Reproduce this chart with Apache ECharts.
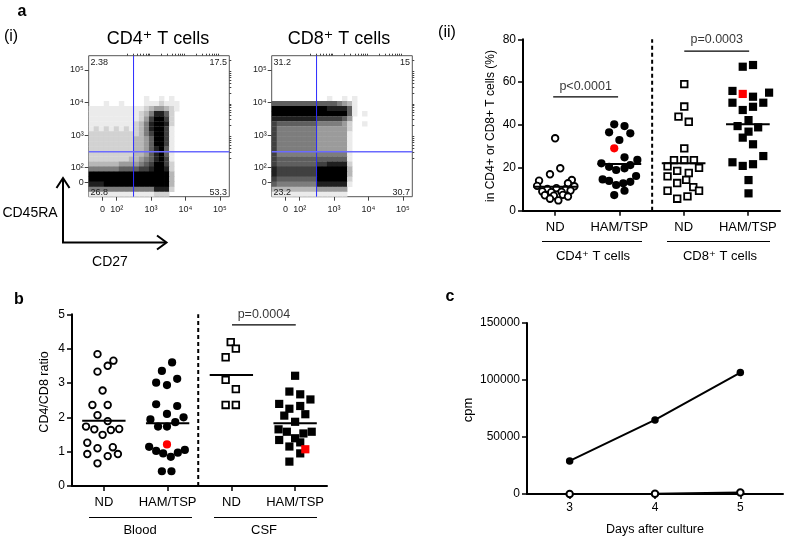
<!DOCTYPE html>
<html><head><meta charset="utf-8">
<script src="https://cdn.jsdelivr.net/npm/echarts@6/dist/echarts.min.js"></script>
<style>html,body{margin:0;padding:0;background:#fff}#c{width:785px;height:540px}</style>
</head><body><div id="c"></div>
<script>
const FONT = "'Liberation Sans', Arial, 'DejaVu Sans', sans-serif";

// ---------- a(i) flow cytometry: density (0 = empty .. 9 = solid), 28 x 28 cells, top row first
const CD4_DENSITY = [
"0000 0000 0000 0000 0000 0000 0000","0000 0000 0000 0000 0000 0000 0000",
"0000 0000 0000 0000 0000 0000 0000","0000 0000 0000 0000 0000 0000 0000",
"0000 0000 0000 0000 0000 0000 0000","0000 0000 0000 0000 0000 0000 0000",
"0000 0000 0000 0000 0000 0000 0000","0000 0000 0000 0000 0000 0000 0000",
"0000 0000 0001 0010 1000 0000 0000",
"0001 0010 0001 1121 1100 0000 0000",
"1111 1111 1112 3443 2100 0000 0000",
"1111 1111 1123 5886 2000 0000 0000",
"1111 1111 1124 7997 2000 0000 0000",
"1111 1111 1235 8998 2000 0000 0000",
"1212 1212 1235 8997 1000 0000 0000",
"2222 2222 2235 7997 1000 0000 0000",
"2222 2222 2334 6997 1000 0000 0000",
"2222 2222 2334 6997 1000 0000 0000",
"2222 2222 2334 6896 1000 0000 0000",
"2222 2222 2334 6896 1000 0000 0000",
"2222 2222 3345 6897 1000 0000 0000",
"3333 3344 4456 7997 2000 0000 0000",
"5555 5566 6677 8998 2000 0000 0000",
"9999 9999 9999 9999 3000 0000 0000",
"9999 9999 9999 9999 3000 0000 0000",
"8889 9999 9999 9999 3000 0000 0000",
"5555 5555 5555 5888 2000 0000 0000",
"1111 1111 1111 1222 0000 0000 0000"
];
const CD8_DENSITY = [
"0000 0000 0000 0000 0000 0000 0000","0000 0000 0000 0000 0000 0000 0000",
"0000 0000 0000 0000 0000 0000 0000","0000 0000 0000 0000 0000 0000 0000",
"0000 0000 0000 0000 0000 0000 0000","0000 0000 0000 0000 0000 0000 0000",
"0000 0000 0000 0000 0000 0000 0000","0000 0000 0000 0000 0000 0000 0000",
"0000 0000 0001 0010 1000 0000 0000",
"6666 6666 6666 6543 1000 0000 0000",
"9999 9999 9998 8886 1000 0000 0000",
"9999 9999 9999 9996 1010 0000 0000",
"8888 8888 8777 7764 0000 0000 0000",
"7666 6666 6555 5542 0010 0000 0000",
"7555 5555 5444 4442 0000 0000 0000",
"7555 5555 5444 4441 0000 0000 0000",
"7555 5555 5444 4441 0000 0000 0000",
"7555 5555 5444 4441 0000 0000 0000",
"7555 5555 5444 4441 0000 0000 0000",
"7555 5555 5555 5551 0000 0000 0000",
"7666 6666 6666 6661 0000 0000 0000",
"7666 6666 6778 8882 0000 0000 0000",
"8777 7777 7999 9993 0000 0000 0000",
"8777 7777 7999 9993 0000 0000 0000",
"7666 6666 6999 9992 0000 0000 0000",
"6555 5555 5888 8881 0000 0000 0000",
"3333 3333 3444 4440 0000 0000 0000",
"1111 1111 1111 1110 0000 0000 0000"
];
const CD4_QUADRANTS = ['2.38', '17.5', '26.8', '53.3'];
const CD8_QUADRANTS = ['31.2', '15', '23.2', '30.7'];
const FLOW_X_TICKS = [1.59, 2, 3, 4, 5];
const FLOW_Y_TICKS = [1.54, 2, 3, 4, 5];
const FLOW_TICK_LABELS = ['0', '10²', '10³', '10⁴', '10⁵'];
const GATE_X = 2.49, GATE_Y = 2.49;
const U_MIN = 1.186, U_MAX = 5.273, V_MIN = 1.110, V_MAX = 5.439;

// ---------- a(ii)
const GROUPS_A = ['ND', 'HAM/TSP', 'ND', 'HAM/TSP'];
const CD4_ND = [[0.50,33.8],[0.58,19.8],[0.42,17.0],[0.25,14.0],[0.76,14.3],[0.70,12.8],
 [0.22,11.6],[0.38,10.2],[0.52,10.5],[0.66,10.0],[0.80,11.4],
 [0.30,9.0],[0.44,8.6],[0.60,8.8],[0.74,9.4],
 [0.34,7.2],[0.48,7.0],[0.62,7.4],[0.70,6.6],[0.42,5.6],[0.55,4.8]];
const CD4_HAM = [[1.42,40.3],[1.58,39.5],[1.34,36.6],[1.67,36.1],[1.50,33.0],
 [1.58,24.9],[1.78,23.7],[1.22,22.1],[1.34,20.5],[1.45,19.0],[1.58,19.8],[1.67,21.3],
 [1.24,14.6],[1.34,13.9],[1.45,12.0],[1.56,12.8],[1.67,13.5],[1.76,16.2],
 [1.42,7.3],[1.58,9.3]];
const CD4_HAM_RED = [[1.42,29.1]];
const CD8_ND = [[2.51,59.1],[2.51,48.6],[2.42,43.9],[2.58,41.5],[2.51,29.1],
 [2.35,23.6],[2.51,23.6],[2.66,23.6],
 [2.25,20.7],[2.40,18.6],[2.58,17.6],[2.74,20.0],
 [2.25,16.0],[2.54,14.4],[2.40,12.9],[2.65,11.0],
 [2.25,9.3],[2.74,9.3],[2.40,5.6],[2.56,6.7]];
const CD8_HAM = [[3.42,67.2],[3.58,68.0],[3.26,55.9],[3.58,53.2],[3.83,55.1],[3.26,50.4],[3.74,50.4],
 [3.42,47.0],[3.58,48.5],[3.51,42.3],[3.34,39.5],[3.66,38.9],[3.51,36.9],[3.42,34.1],[3.58,31.0],
 [3.74,25.5],[3.26,22.6],[3.42,20.9],[3.58,21.7],[3.51,14.3],[3.51,8.1]];
const CD8_HAM_RED = [[3.42,54.5]];
const MEDIANS_A = [11.2, 21.8, 22.1, 40.3];
const P_A = [{text:'p<0.0001', from:0.47, to:1.48, y:53.1, ty:57.8}, {text:'p=0.0003', from:2.51, to:3.52, y:74.5, ty:80}];

// ---------- b
const GROUPS_B = ['ND', 'HAM/TSP', 'ND', 'HAM/TSP'];
const BLOOD_ND = [[0.40,3.84],[0.65,3.65],[0.56,3.50],[0.40,3.33],[0.48,2.78],[0.32,2.36],[0.56,2.36],
 [0.40,2.06],[0.56,1.89],[0.22,1.73],[0.35,1.65],[0.48,1.49],[0.61,1.63],[0.74,1.66],
 [0.24,1.26],[0.40,1.10],[0.64,1.13],[0.24,0.93],[0.56,0.87],[0.72,0.93],[0.40,0.66]];
const BLOOD_HAM = [[1.57,3.60],[1.41,3.35],[1.32,3.01],[1.49,2.94],[1.65,3.12],[1.32,2.38],[1.65,2.33],
 [1.49,2.10],[1.23,1.94],[1.75,2.00],[1.62,1.86],[1.35,1.73],[1.49,1.73],
 [1.21,1.14],[1.32,1.02],[1.43,0.95],[1.55,0.85],[1.66,0.97],[1.77,1.05],[1.41,0.43],[1.56,0.43]];
const BLOOD_HAM_RED = [[1.49,1.21]];
const CSF_ND = [[2.49,4.19],[2.57,4.00],[2.41,3.75],[2.41,3.09],[2.57,2.82],[2.41,2.36],[2.57,2.36]];
const CSF_HAM = [[3.50,3.21],[3.41,2.75],[3.58,2.67],[3.74,2.52],[3.25,2.39],[3.41,2.25],[3.58,2.33],
 [3.33,2.05],[3.66,2.09],[3.50,1.87],[3.24,1.65],[3.37,1.58],[3.63,1.53],[3.76,1.58],
 [3.25,1.34],[3.50,1.39],[3.58,1.27],[3.41,1.15],[3.58,0.95],[3.41,0.71]];
const CSF_HAM_RED = [[3.66,1.07]];
const MEDIANS_B = [1.90, 1.83, 3.23, 1.83];
const P_B = [{text:'p=0.0004', from:2.51, to:3.51, y:4.69, ty:4.98}];

// ---------- c
const DAYS = ['3', '4', '5'];
const HAM_CPM = [29000, 65000, 106500];
const ND_CPM = [0, 200, 1300];

// ================= build =================
const NC = 28, NR = 28;
const DU = (U_MAX - U_MIN) / NC, DV = (V_MAX - V_MIN) / NR;
function densityData(rows) {
  const out = [];
  rows.forEach((row, r) => {
    const s = row.replace(/\s/g, '');
    for (let c = 0; c < NC; c++) {
      const d = +(s[c] || 0);
      if (d > 0) out.push([U_MIN + (c + 0.5) * DU, V_MAX - (r + 0.5) * DV, d]);
    }
  });
  return out;
}
function renderCell(params, api) {
  const u = api.value(0), v = api.value(1), d = api.value(2);
  const p0 = api.coord([u - DU / 2, v + DV / 2]);
  const p1 = api.coord([u + DU / 2, v - DV / 2]);
  const g = Math.round(255 * (1 - Math.pow(d / 9, 1.15)));
  return {type: 'rect', shape: {x: p0[0], y: p0[1], width: p1[0] - p0[0] + 0.4, height: p1[1] - p0[1] + 0.4},
    style: {fill: 'rgb(' + g + ',' + g + ',' + g + ')'}};
}
function minorTicks(lo, hi) {
  const t = [];
  for (let dec = 2; dec <= 5; dec++) for (let k = 2; k <= 9; k++) {
    const p = dec + Math.log10(k); if (p > lo && p < hi) t.push(p);
  }
  return t;
}
function nearestLabel(v, ticks) {
  let bi = 0; ticks.forEach((t, i) => { if (Math.abs(t - v) < Math.abs(ticks[bi] - v)) bi = i; });
  return FLOW_TICK_LABELS[bi];
}
const tickStyle = {color: '#444', width: 1};
function flowX(gi) {
  return {type: 'value', gridIndex: gi, min: U_MIN, max: U_MAX, axisLine: {show: false}, splitLine: {show: false},
    axisTick: {show: true, customValues: FLOW_X_TICKS, length: 4, lineStyle: tickStyle},
    axisLabel: {show: true, customValues: FLOW_X_TICKS, formatter: v => nearestLabel(v, FLOW_X_TICKS),
      fontSize: 9, color: '#222', margin: 8, fontFamily: FONT}};
}
function flowXMinor(gi) {
  return {type: 'value', gridIndex: gi, min: U_MIN, max: U_MAX, axisLine: {show: false}, splitLine: {show: false},
    axisTick: {show: true, customValues: minorTicks(U_MIN, U_MAX), length: 2, lineStyle: tickStyle}, axisLabel: {show: false}};
}
function flowY(gi) {
  return {type: 'value', gridIndex: gi, min: V_MIN, max: V_MAX, axisLine: {show: false}, splitLine: {show: false},
    axisTick: {show: true, customValues: FLOW_Y_TICKS, length: 4, lineStyle: tickStyle},
    axisLabel: {show: true, customValues: FLOW_Y_TICKS, formatter: v => nearestLabel(v, FLOW_Y_TICKS),
      fontSize: 9, color: '#222', margin: 5, fontFamily: FONT}};
}
function flowYMinor(gi) {
  return {type: 'value', gridIndex: gi, min: V_MIN, max: V_MAX, axisLine: {show: false}, splitLine: {show: false},
    axisTick: {show: true, customValues: minorTicks(V_MIN, V_MAX), length: 2, lineStyle: tickStyle}, axisLabel: {show: false}};
}
const AXLINE = {show: true, lineStyle: {color: '#000', width: 2}};
const AXTICK = {show: true, length: 5, lineStyle: {color: '#000', width: 1.5}};
const AXLABEL = {color: '#000', fontSize: 12, fontFamily: FONT};
function groupX(gi, groups) {
  return {type: 'value', gridIndex: gi, min: 0, max: 4, axisLine: AXLINE, splitLine: {show: false},
    axisTick: Object.assign({}, AXTICK, {customValues: [0.5, 1.5, 2.5, 3.5]}),
    axisLabel: Object.assign({}, AXLABEL, {fontSize: 13, margin: 10, customValues: [0.5, 1.5, 2.5, 3.5],
      formatter: v => groups[Math.floor(v)]})};
}
function valY(gi, max, interval) {
  return {type: 'value', gridIndex: gi, min: 0, max: max, interval: interval, axisLine: AXLINE, axisTick: AXTICK,
    splitLine: {show: false}, axisLabel: Object.assign({}, AXLABEL, {margin: 7, formatter: v => String(v)})};
}

const grids = [
  {left: 88.7, top: 55.7, width: 140.6, height: 141},
  {left: 271.7, top: 55.7, width: 140.6, height: 141},
  {left: 523, top: 39.3, width: 257, height: 171.4},
  {left: 72, top: 314.3, width: 255, height: 171.7},
  {left: 527, top: 323, width: 256, height: 171}
].map((g, i) => Object.assign({containLabel: false, outerBoundsMode: 'none'}, g,
  i < 2 ? {show: true, borderColor: '#555', borderWidth: 1, backgroundColor: 'transparent'} : {show: false}));

const xAxis = [flowX(0), flowX(1), flowXMinor(0), flowXMinor(1), groupX(2, GROUPS_A), groupX(3, GROUPS_B),
  {type: 'category', gridIndex: 4, data: DAYS, boundaryGap: true, axisLine: AXLINE,
   axisTick: Object.assign({}, AXTICK, {alignWithLabel: true}), axisLabel: Object.assign({}, AXLABEL, {margin: 8}),
   splitLine: {show: false}}];
const yAxis = [flowY(0), flowY(1), flowYMinor(0), flowYMinor(1), valY(2, 80, 20), valY(3, 5, 1), valY(4, 150000, 50000)];

const series = [];
// flow plots
[[CD4_DENSITY, 0], [CD8_DENSITY, 1]].forEach(([rows, i]) => {
  series.push({type: 'custom', xAxisIndex: i, yAxisIndex: i, data: densityData(rows), renderItem: renderCell,
    encode: {x: 0, y: 1}, clip: true, silent: true, z: 2});
  series.push({type: 'line', xAxisIndex: i, yAxisIndex: i, data: [[GATE_X, V_MIN], [GATE_X, V_MAX]], symbol: 'none',
    lineStyle: {color: '#2b2bff', width: 1}, z: 5, silent: true});
  series.push({type: 'line', xAxisIndex: i, yAxisIndex: i, data: [[U_MIN, GATE_Y], [U_MAX, GATE_Y]], symbol: 'none',
    lineStyle: {color: '#6a6aff', width: 1.5}, z: 5, silent: true});
});

function dots(data, xi, symbol, open, color) {
  return {type: 'scatter', xAxisIndex: xi, yAxisIndex: xi, data: data, symbol: symbol,
    symbolSize: open ? 6.6 : 8.2, z: 4, silent: true,
    itemStyle: open ? {color: '#fff', borderColor: '#000', borderWidth: 1.8, opacity: 1} : {color: color || '#000', opacity: 1}};
}
function medians(meds, xi) {
  return meds.map((m, i) => ({type: 'line', xAxisIndex: xi, yAxisIndex: xi, data: [[i + 0.5 - 0.34, m], [i + 0.5 + 0.34, m]],
    symbol: 'none', lineStyle: {color: '#000', width: 2}, z: 6, silent: true}));
}
function pbars(list, xi) {
  const out = [];
  list.forEach(p => {
    out.push({type: 'line', xAxisIndex: xi, yAxisIndex: xi, data: [[p.from, p.y], [p.to, p.y]], symbol: 'none',
      lineStyle: {color: '#000', width: 1.2}, z: 6, silent: true});
    out.push({type: 'scatter', xAxisIndex: xi, yAxisIndex: xi, data: [[(p.from + p.to) / 2, p.ty]], symbolSize: 0,
      label: {show: true, position: 'inside', formatter: p.text, color: '#000', fontSize: 12.5, fontFamily: FONT}, z: 6, silent: true});
  });
  return out;
}
function divider(xi, x, top) {
  return {type: 'line', xAxisIndex: xi, yAxisIndex: xi, data: [[x, 0], [x, top]], symbol: 'none',
    lineStyle: {color: '#000', width: 2, type: [4, 3]}, z: 3, silent: true};
}
// a(ii)
series.push(dots(CD4_ND, 4, 'circle', true), dots(CD4_HAM, 4, 'circle', false), dots(CD4_HAM_RED, 4, 'circle', false, '#ff0000'),
  dots(CD8_ND, 4, 'rect', true), dots(CD8_HAM, 4, 'rect', false), dots(CD8_HAM_RED, 4, 'rect', false, '#ff0000'));
series.push(...medians(MEDIANS_A, 4), ...pbars(P_A, 4), divider(4, 2.01, 80));
// b
series.push(dots(BLOOD_ND, 5, 'circle', true), dots(BLOOD_HAM, 5, 'circle', false), dots(BLOOD_HAM_RED, 5, 'circle', false, '#ff0000'),
  dots(CSF_ND, 5, 'rect', true), dots(CSF_HAM, 5, 'rect', false), dots(CSF_HAM_RED, 5, 'rect', false, '#ff0000'));
series.push(...medians(MEDIANS_B, 5), ...pbars(P_B, 5), divider(5, 1.98, 5));
// c
series.push({type: 'line', xAxisIndex: 6, yAxisIndex: 6, data: HAM_CPM, symbol: 'circle', symbolSize: 7.5,
  lineStyle: {color: '#000', width: 2}, itemStyle: {color: '#000'}, z: 4, silent: true});
series.push({type: 'line', xAxisIndex: 6, yAxisIndex: 6, data: ND_CPM, symbol: 'circle', symbolSize: 6.5,
  lineStyle: {color: '#000', width: 2}, itemStyle: {color: '#fff', borderColor: '#000', borderWidth: 2}, z: 5, silent: true});

// ---------- annotations
function txt(text, x, y, size, opt) {
  opt = opt || {};
  const al = opt.align || 'center';
  return {type: 'text', x: x, y: y, rotation: opt.rot || 0, z: 100, silent: true,
    style: {text: text, x: 0, y: 0, fill: opt.color || '#000', font: (opt.bold ? 'bold ' : '') + size + 'px ' + FONT,
      textAlign: al, align: al, textVerticalAlign: 'middle', verticalAlign: 'middle'}};
}
function ln(x1, y1, x2, y2, w) {
  return {type: 'line', z: 100, silent: true, shape: {x1: x1, y1: y1, x2: x2, y2: y2}, style: {stroke: '#000', lineWidth: w || 1}};
}
function pl(points, w) {
  return {type: 'polyline', z: 100, silent: true, shape: {points: points}, style: {stroke: '#000', lineWidth: w || 2, fill: null}};
}
const graphic = [
  txt('a', 22, 12, 16, {bold: true}), txt('b', 19, 300, 16, {bold: true}), txt('c', 450, 297, 16, {bold: true}),
  txt('(i)', 11, 37, 16), txt('(ii)', 447, 33, 16),
  txt('CD4⁺ T cells', 158, 39, 18), txt('CD8⁺ T cells', 339, 39, 18),
  txt(CD4_QUADRANTS[0], 90.5, 62.5, 9, {align: 'left', color: '#222'}), txt(CD4_QUADRANTS[1], 227, 62.5, 9, {align: 'right', color: '#222'}),
  txt(CD4_QUADRANTS[2], 90.5, 192.5, 9, {align: 'left', color: '#222'}), txt(CD4_QUADRANTS[3], 227, 192.5, 9, {align: 'right', color: '#222'}),
  txt(CD8_QUADRANTS[0], 273.5, 62.5, 9, {align: 'left', color: '#222'}), txt(CD8_QUADRANTS[1], 410, 62.5, 9, {align: 'right', color: '#222'}),
  txt(CD8_QUADRANTS[2], 273.5, 192.5, 9, {align: 'left', color: '#222'}), txt(CD8_QUADRANTS[3], 410, 192.5, 9, {align: 'right', color: '#222'}),
  // CD45RA / CD27 arrows
  ln(63, 242.5, 63, 178, 2), ln(62, 242.5, 166, 242.5, 2),
  pl([[56.5, 188], [63, 178], [69.5, 188]], 2), pl([[157, 235.5], [166.5, 242.5], [157, 249.5]], 2),
  txt('CD45RA', 30, 213, 14), txt('CD27', 110, 262, 14),
  // a(ii) labels
  txt('in CD4+ or CD8+ T cells (%)', 491, 126, 12, {rot: Math.PI / 2}),
  ln(542, 241.5, 642, 241.5, 1), ln(667, 241.5, 770, 241.5, 1),
  txt('CD4⁺ T cells', 593, 256, 13), txt('CD8⁺ T cells', 720, 256, 13),
  // b labels
  txt('CD4/CD8 ratio', 45, 392, 12.5, {rot: Math.PI / 2}),
  ln(89, 517.5, 192, 517.5, 1), ln(214, 517.5, 317, 517.5, 1),
  txt('Blood', 140, 530, 13), txt('CSF', 264, 530, 13),
  // c labels
  txt('cpm', 468, 410, 13, {rot: Math.PI / 2}), txt('Days after culture', 655, 530, 12.5)
];

const chart = echarts.init(document.getElementById('c'), null, {renderer: 'canvas'});
chart.setOption({animation: false, backgroundColor: '#fff', grid: grids, xAxis: xAxis, yAxis: yAxis, series: series, graphic: graphic});
</script></body></html>
